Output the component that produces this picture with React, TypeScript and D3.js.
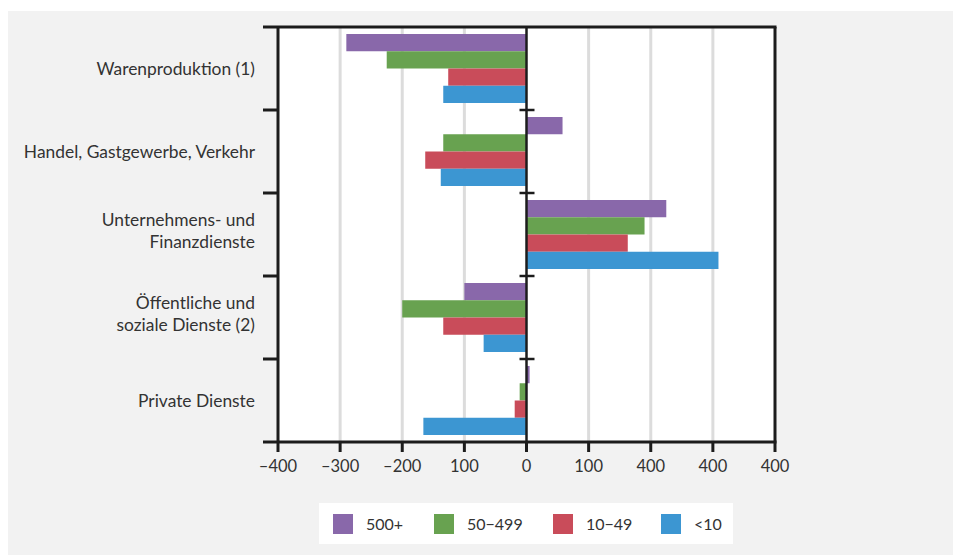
import React from "react";
import * as d3 from "d3";

const categories = [
  "Warenproduktion (1)",
  "Handel, Gastgewerbe, Verkehr",
  "Unternehmens- und|Finanzdienste",
  "Öffentliche und|soziale Dienste (2)",
  "Private Dienste",
];
const seriesNames = ["500+", "50−499", "10−49", "<10"];
const v500 = [-290, 58, 225, -100, 5];
const v50 = [-225, -134, 190, -200, -11];
const v10 = [-126, -163, 163, -134, -19];
const vLt10 = [-134, -138, 309, -69, -166];
const seriesValues = [v500, v50, v10, vLt10];
const colors = ["#8968aa", "#68a250", "#c94c5a", "#3c96d2"];
const xTickValues = [-400, -300, -200, -100, 0, 100, 200, 300, 400];
const xTickLabels = ["–400", "–300", "–200", "100", "0", "100", "400", "400", "400"];

const W = 953;
const H = 555;
const FONT = "Lato, 'Open Sans', sans-serif";
const TEXT = "#333";
const AX = "#1c1c1c";

export default function App() {
  const left = 278, right = 775, top = 27, bottom = 442;
  const x = d3.scaleLinear().domain([-400, 400]).range([left, right]);
  const y = d3.scaleBand<number>().domain(d3.range(categories.length)).range([top, bottom]);
  const inner = d3
    .scaleBand<number>()
    .domain(d3.range(seriesNames.length))
    .range([7, y.bandwidth() - 7]);
  const boundaries = d3.range(categories.length + 1).map((i) => top + i * y.bandwidth());
  const x0 = x(0);

  const legendX = [333, 434, 553, 661];

  return (
    <svg width={W} height={H} style={{ position: "absolute", left: 0, top: 0 }} fontFamily={FONT}>
      <rect x={0} y={0} width={W} height={H} fill="#fff" />
      <rect x={8} y={11} width={W - 8} height={H - 11} fill="#f2f2f2" />
      <rect x={left} y={top} width={right - left} height={bottom - top} fill="#fff" />
      {xTickValues
        .filter((v) => v !== -400 && v !== 400 && v !== 0)
        .map((v) => (
          <line key={"g" + v} x1={x(v)} x2={x(v)} y1={top} y2={bottom} stroke="#dcdcdc" strokeWidth={3} />
        ))}
      {categories.map((c, ci) =>
        seriesValues.map((vals, si) => {
          const v = vals[ci];
          const bx = Math.min(x(v), x0);
          const bw = Math.abs(x(v) - x0);
          return (
            <rect
              key={ci + "-" + si}
              x={bx}
              y={(y(ci) as number) + (inner(si) as number)}
              width={bw}
              height={inner.bandwidth()}
              fill={colors[si]}
            />
          );
        })
      )}
      {/* zero line */}
      <line x1={x0} x2={x0} y1={top} y2={bottom} stroke={AX} strokeWidth={2.5} />
      {boundaries.slice(1, -1).map((b, i) => (
        <line key={"zc" + i} x1={x0 - 7} x2={x0 + 8} y1={b} y2={b} stroke={AX} strokeWidth={2.5} />
      ))}
      {/* frame */}
      <line x1={263} x2={right + 1.5} y1={top} y2={top} stroke={AX} strokeWidth={3} />
      <line x1={left} x2={left} y1={top} y2={bottom} stroke={AX} strokeWidth={3} />
      <line x1={right} x2={right} y1={top} y2={bottom} stroke={AX} strokeWidth={3} />
      <line x1={263} x2={right + 1.5} y1={bottom} y2={bottom} stroke={AX} strokeWidth={3} />
      {boundaries.slice(1, -1).map((b, i) => (
        <line key={"lt" + i} x1={263} x2={left} y1={b} y2={b} stroke={AX} strokeWidth={3} />
      ))}
      {xTickValues.map((v, i) => (
        <g key={"xt" + v}>
          <line x1={x(v)} x2={x(v)} y1={bottom} y2={bottom + 10} stroke={AX} strokeWidth={3} />
          <text x={x(v)} y={bottom + 24} dy="0.35em" textAnchor="middle" fontSize={16.5} fill={TEXT}>
            {xTickLabels[i]}
          </text>
        </g>
      ))}
      {categories.map((c, ci) => {
        const lines = c.split("|");
        const cy = (y(ci) as number) + y.bandwidth() / 2;
        const startY = lines.length === 1 ? cy : cy - 3.5 - 11;
        return (
          <text key={"cl" + ci} x={255} textAnchor="end" fontSize={17.4} fill={TEXT}>
            {lines.map((l, li) => (
              <tspan key={li} x={255} y={startY + li * 22} dy="0.35em">
                {l}
              </tspan>
            ))}
          </text>
        );
      })}
      {/* legend */}
      <rect x={319} y={503} width={414} height={41} fill="#fff" />
      {seriesNames.map((s, i) => (
        <g key={"lg" + i}>
          <rect x={legendX[i]} y={514} width={20} height={20} fill={colors[i]} />
          <text x={legendX[i] + 33} y={524} dy="0.35em" fontSize={16} fill={TEXT}>
            {s}
          </text>
        </g>
      ))}
    </svg>
  );
}
